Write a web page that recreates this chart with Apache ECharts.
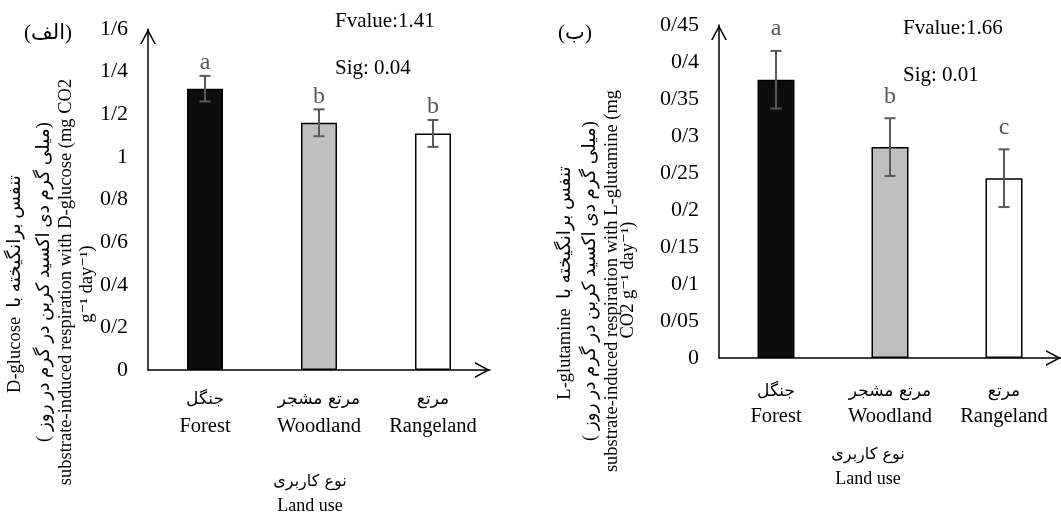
<!DOCTYPE html>
<html>
<head>
<meta charset="utf-8">
<script src="https://cdn.jsdelivr.net/npm/echarts@6/dist/echarts.min.js"></script>
<style>
html,body{margin:0;padding:0;background:#fff;}
#chart{width:1061px;height:514px;}
</style>
</head>
<body>
<div id="chart"></div>
<script>
// ---- data ----
const categoriesFa = ['جنگل', 'مرتع مشجر', 'مرتع'];
const categoriesEn = ['Forest', 'Woodland', 'Rangeland'];
const barColors = ['#0d0d0d', '#bfbfbf', '#ffffff'];

const glucoseMeans = [1.32, 1.16, 1.11];
const glucoseErr = [0.06, 0.063, 0.063];
const glucoseLetters = ['a', 'b', 'b'];
const glucoseAxis = { min: 0, max: 1.6, interval: 0.2 };

const glutamineMeans = [0.376, 0.285, 0.243];
const glutamineErr = [0.039, 0.039, 0.039];
const glutamineLetters = ['a', 'b', 'c'];
const glutamineAxis = { min: 0, max: 0.45, interval: 0.05 };

const statsLeft = ['Fvalue:1.41', 'Sig: 0.04'];
const statsRight = ['Fvalue:1.66', 'Sig: 0.01'];

// ---- helpers ----
const SERIF = '"Liberation Serif", "DejaVu Serif", "DejaVu Sans", serif';
const ARROW = 'path://M0,15 L8,0 L16,15 L14.3,15 L8,3.2 L1.7,15 Z';

function tickFmt(v) {
  return String(Math.round(v * 1000) / 1000).replace('.', '/');
}

function barData(means) {
  return means.map((m, i) => ({
    value: m,
    itemStyle: { color: barColors[i], borderColor: '#000', borderWidth: 1.5 }
  }));
}

function errData(means, errs) {
  return means.map((m, i) => [i, m - errs[i], m + errs[i]]);
}

function makeErrRender(letters, gap) {
  return function (params, api) {
    const i = api.value(0);
    const lo = api.coord([i, api.value(1)]);
    const hi = api.coord([i, api.value(2)]);
    const cw = 5.5;
    const st = { stroke: '#595959', lineWidth: 2 };
    return {
      type: 'group',
      children: [
        { type: 'line', shape: { x1: lo[0], y1: lo[1], x2: hi[0], y2: hi[1] }, style: st },
        { type: 'line', shape: { x1: lo[0] - cw, y1: lo[1], x2: lo[0] + cw, y2: lo[1] }, style: st },
        { type: 'line', shape: { x1: hi[0] - cw, y1: hi[1], x2: hi[0] + cw, y2: hi[1] }, style: st },
        { type: 'text', style: {
            text: letters[params.dataIndex], x: hi[0], y: hi[1] - gap,
            align: 'center', verticalAlign: 'bottom',
            fontSize: 24, fontFamily: SERIF, fill: '#595959' } }
      ]
    };
  };
}

function xAxisCfg(gridIndex, margin, enLH, nameGap, namePadRight) {
  return {
    type: 'category', gridIndex: gridIndex, data: categoriesEn,
    axisLine: { show: true, lineStyle: { color: '#000', width: 1.5 },
      symbol: ['none', ARROW], symbolSize: [16, 15], symbolOffset: [0, -7.5] },
    axisTick: { show: false },
    axisLabel: {
      interval: 0, margin: margin,
      formatter: function (v, idx) { return '{fa|' + categoriesFa[idx] + '}\n{en|' + v + '}'; },
      rich: {
        fa: { fontSize: 17, lineHeight: 26, fontFamily: '"DejaVu Sans", sans-serif', color: '#000' },
        en: { fontSize: 20.5, lineHeight: enLH, fontFamily: SERIF, color: '#000' }
      }
    },
    name: '{fa|نوع کاربری}\n{en|Land use}',
    nameLocation: 'middle', nameGap: nameGap,
    nameTextStyle: {
      padding: [0, namePadRight, 0, 0],
      rich: {
        fa: { fontSize: 16, lineHeight: 25, fontFamily: '"DejaVu Sans", sans-serif', color: '#000' },
        en: { fontSize: 18, lineHeight: 25, fontFamily: SERIF, color: '#000' }
      }
    },
    splitLine: { show: false }
  };
}

function yAxisCfg(gridIndex, ax) {
  return {
    type: 'value', gridIndex: gridIndex, min: ax.min, max: ax.max, interval: ax.interval,
    axisLine: { show: true, lineStyle: { color: '#000', width: 1.5 },
      symbol: ['none', ARROW], symbolSize: [16, 15], symbolOffset: [0, -7.5] },
    axisTick: { show: false },
    splitLine: { show: false },
    axisLabel: { formatter: tickFmt, fontSize: 22, fontFamily: SERIF, color: '#000', margin: 20 }
  };
}

function vText(x, y, text) {
  return { type: 'text', x: x, y: y, rotation: Math.PI / 2,
    style: { text: text, align: 'center', verticalAlign: 'middle',
      fontSize: 18.5, fontFamily: SERIF, fill: '#000' } };
}
function hText(x, y, text, size, align) {
  return { type: 'text', x: x, y: y,
    style: { text: text, align: align || 'left', verticalAlign: 'middle',
      fontSize: size, fontFamily: SERIF, fill: '#000' } };
}

const option = {
  backgroundColor: '#fff',
  animation: false,
  grid: [
    { left: 148, right: 571, top: 29, bottom: 144, containLabel: false, outerBoundsMode: 'none' },
    { left: 719, right: 0, top: 25, bottom: 156, containLabel: false, outerBoundsMode: 'none' }
  ],
  xAxis: [ xAxisCfg(0, 17, 28, 99, 18), xAxisCfg(1, 21, 24, 84, 44) ],
  yAxis: [ yAxisCfg(0, glucoseAxis), yAxisCfg(1, glutamineAxis) ],
  series: [
    { type: 'bar', xAxisIndex: 0, yAxisIndex: 0, barWidth: 36, data: barData(glucoseMeans) },
    { type: 'custom', xAxisIndex: 0, yAxisIndex: 0, renderItem: makeErrRender(glucoseLetters, 1),
      data: errData(glucoseMeans, glucoseErr), z: 5 },
    { type: 'bar', xAxisIndex: 1, yAxisIndex: 1, barWidth: 37, data: barData(glutamineMeans) },
    { type: 'custom', xAxisIndex: 1, yAxisIndex: 1, renderItem: makeErrRender(glutamineLetters, 10),
      data: errData(glutamineMeans, glutamineErr), z: 5 }
  ],
  graphic: [
    hText(48, 33, '(الف)', 21, 'center'),
    hText(575, 33, '(ب)', 21, 'center'),
    hText(335, 21, statsLeft[0], 21),
    hText(335, 68, statsLeft[1], 21),
    hText(903, 28, statsRight[0], 21),
    hText(903, 75, statsRight[1], 21),
    vText(15, 284, 'D-glucose  تنفس برانگیخته با'),
    vText(44, 282, '( میلی گرم دی اکسید کربن در گرم در روز)'),
    vText(66, 282, 'substrate-induced respiration with D-glucose (mg CO2'),
    vText(87, 284, 'g⁻¹ day⁻¹)'),
    vText(565, 283, 'L-glutamine  تنفس برانگیخته با'),
    vText(590, 281, '( میلی گرم دی اکسید کربن در گرم در روز)'),
    vText(612, 281, 'substrate-induced respiration with L-glutamine (mg'),
    vText(628, 280, 'CO2 g⁻¹ day⁻¹)')
  ]
};

const chart = echarts.init(document.getElementById('chart'), null, { renderer: 'canvas' });
chart.setOption(option);
</script>
</body>
</html>
